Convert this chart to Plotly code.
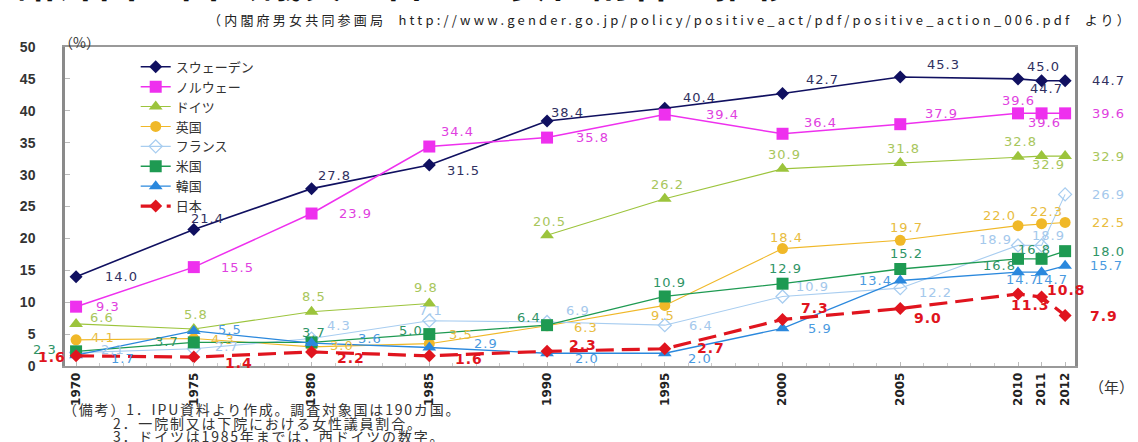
import plotly.graph_objects as go

# ---------------- data ----------------
years = [1970, 1975, 1980, 1985, 1990, 1995, 2000, 2005, 2010, 2011, 2012]
tick_labels = [str(y) for y in years]

countries = ["スウェーデン", "ノルウェー", "ドイツ", "英国", "フランス", "米国", "韓国", "日本"]
sweden = [14.0, 21.4, 27.8, 31.5, 38.4, 40.4, 42.7, 45.3, 45.0, 44.7, 44.7]
norway = [9.3, 15.5, 23.9, 34.4, 35.8, 39.4, 36.4, 37.9, 39.6, 39.6, 39.6]
germany = [6.6, 5.8, 8.5, 9.8, 20.5, 26.2, 30.9, 31.8, 32.8, 32.9, 32.9]
uk = [4.1, 4.3, 3.0, 3.5, 6.3, 9.5, 18.4, 19.7, 22.0, 22.3, 22.5]
france = [2.1, 2.7, 4.3, 7.1, 6.9, 6.4, 10.9, 12.2, 18.9, 18.9, 26.9]
usa = [2.3, 3.7, 3.7, 5.0, 6.4, 10.9, 12.9, 15.2, 16.8, 16.8, 18.0]
korea = [1.7, 5.5, 3.6, 2.9, 2.0, 2.0, 5.9, 13.4, 14.7, 14.7, 15.7]
japan = [1.6, 1.4, 2.2, 1.6, 2.3, 2.7, 7.3, 9.0, 11.3, 10.8, 7.9]
west_germany_until = 1985  # West Germany figures up to 1985 (line break after)

title_text = "諸外国の国会議員に占める女性割合の推移"
source_text = "（内閣府男女共同参画局  http://www.gender.go.jp/policy/positive_act/pdf/positive_action_006.pdf  より）"
notes = ["（備考）1．IPU資料より作成。調査対象国は190カ国。",
         "2．一院制又は下院における女性議員割合。",
         "3．ドイツは1985年までは，西ドイツの数字。"]

# ---------------- styles ----------------
series = [sweden, norway, germany, uk, france, usa, korea, japan]
line_colors = ["#101060", "#ee30ee", "#9cc43c", "#f0b828", "#a8cdf0", "#1e9a52", "#2a88dd", "#e0141e"]
label_colors = ["#303060", "#e040e0", "#a8c65c", "#e8bc40", "#a4c8ec", "#2f9466", "#4a9ae0", "#e0141e"]
symbols = ["diamond", "square", "triangle-up", "circle", "diamond-open", "square", "triangle-up", "diamond"]
msizes = [10, 12, 12, 11, 10, 12, 12, 10]
lwidths = [1.6, 1.5, 1.1, 1.1, 1.1, 1.3, 1.3, 3.2]
dashes = ["solid"] * 7 + ["18px,8px"]

# label offsets (dx, dy) in pixels (dy downward)
offsets = [
    [(45, 0), (14, -11), (23, -13), (34, 5), (20, -9), (35, -11), (40, -14), (43, -12), (25, -12), (5, 8), (43, 0)],
    [(32, 0), (44, 0), (44, 0), (28, -15), (45, 0), (58, 0), (38, -11), (41, -11), (0, -13), (3, 9), (43, 0)],
    [(26, -6), (2, -15), (2, -15), (-3, -16), (2, -14), (3, -14), (2, -14), (3, -15), (2, -15), (7, 8), (43, 0)],
    [(27, -2), (29, 1), (30, -1), (32, -9), (39, 2), (-2, 10), (4, -11), (6, -13), (-19, -10), (5, -12), (43, 0)],
    [(37, -3), (33, -2), (27, -13), (2, -10), (31, -11), (36, 0), (30, -10), (35, 4), (-23, -6), (7, -10), (43, 0)],
    [(-31, -2), (-27, -1), (2, -10), (-18, -4), (-18, -8), (5, -14), (3, -15), (6, -16), (-19, 7), (-7, -9), (43, 0)],
    [(47, 3), (36, -1), (58, -5), (57, -4), (40, 5), (35, 5), (37, 0), (-25, 0), (4, 7), (10, 7), (41, 0)],
    [(-24, 1), (45, 6), (39, 6), (40, 3), (36, -6), (46, -1), (32, -11), (28, 9), (12, 11), (25, -7), (39, 0)],
]


def spaced(text, px):
    return f'<span style="letter-spacing:{px}px">{text}</span>'


fig = go.Figure()
for i, (name, vals) in enumerate(zip(countries, series)):
    segs = [(years, vals)]
    if name == "ドイツ":
        k = years.index(west_germany_until) + 1
        segs = [(years[:k], vals[:k]), (years[k:], vals[k:])]
    for j, (xs, ys) in enumerate(segs):
        fig.add_trace(go.Scatter(
            x=xs, y=ys, name=name, mode="lines+markers",
            legendgroup=name, showlegend=(j == 0),
            line=dict(color=line_colors[i], width=lwidths[i], dash=dashes[i]),
            marker=dict(symbol=symbols[i], size=msizes[i], color=line_colors[i],
                        line=dict(width=1.3 if symbols[i].endswith("open") else 0, color=line_colors[i])),
            hoverinfo="x+y+name",
        ))

annotations = []
for i, vals in enumerate(series):
    is_jp = countries[i] == "日本"
    for k, (yr, v) in enumerate(zip(years, vals)):
        dx, dy = offsets[i][k]
        annotations.append(dict(
            x=yr, y=v, xref="x", yref="y", text=spaced(f"{v:.1f}", 1), showarrow=False,
            xshift=dx, yshift=-dy, xanchor="center", yanchor="middle",
            font=dict(family="DejaVu Sans, Arial, sans-serif", size=14 if is_jp else 13,
                      color=label_colors[i], weight="bold" if is_jp else "normal"),
        ))

# title (clipped at top), source, units, notes
annotations.append(dict(text=spaced(f"<b>{title_text}</b>", 3), x=0.0, xref="paper", xanchor="left",
                        y=1.1145, yref="paper", yanchor="bottom", showarrow=False, xshift=-50,
                        font=dict(family="Noto Sans CJK JP", size=38, color="#111")))
annotations.append(dict(text=spaced(source_text, 3.2), x=1.0, xref="paper", xanchor="right", xshift=60,
                        y=1.086, yref="paper", yanchor="middle", showarrow=False,
                        font=dict(family="Noto Sans CJK JP", size=13, color="#222")))
annotations.append(dict(text="（%）", x=0.0, xref="paper", xanchor="left", xshift=-8,
                        y=1.0, yref="paper", yanchor="middle", yshift=5, showarrow=False,
                        font=dict(family="Noto Sans CJK JP", size=14, color="#333")))
annotations.append(dict(text="（年）", x=1.0, xref="paper", xanchor="left", xshift=12,
                        y=0.0, yref="paper", yanchor="top", yshift=-8, showarrow=False,
                        font=dict(family="Noto Sans CJK JP", size=15, color="#333")))
note_x = [-4, 46, 46]
for n, (t, xs) in enumerate(zip(notes, note_x)):
    annotations.append(dict(text=spaced(t, 1.8), x=0.0, xref="paper", xanchor="left", xshift=xs,
                            y=0.0, yref="paper", yanchor="middle", yshift=-43 - 13.5 * n,
                            showarrow=False,
                            font=dict(family="Noto Sans CJK JP", size=14, color="#333")))

fig.update_layout(
    width=1138, height=442,
    margin=dict(l=65, r=63, t=47, b=76),
    paper_bgcolor="white", plot_bgcolor="white",
    showlegend=True,
    legend=dict(x=0.07, y=0.985, xanchor="left", yanchor="top",
                bgcolor="rgba(255,255,255,0)", borderwidth=0,
                font=dict(family="Noto Sans CJK JP", size=13, color="#333"),
                tracegroupgap=0),
    annotations=annotations,
    xaxis=dict(range=[1969.53, 2012.42], tickmode="array", tickvals=years, ticktext=tick_labels,
               tickangle=-90, showgrid=False, zeroline=False,
               showline=True, linecolor="#999", linewidth=1.5, mirror=True,
               ticks="inside", ticklen=4, tickcolor="#bbb",
               minor=dict(dtick=1, ticks="inside", ticklen=3, tickcolor="#ccc"),
               tickfont=dict(family="DejaVu Sans, Arial", size=12, color="#222", weight="bold")),
    yaxis=dict(range=[0, 50], dtick=5, showgrid=False, zeroline=False,
               showline=True, linecolor="#8a8a8a", linewidth=2.5, mirror=True,
               ticks="inside", ticklen=5, tickcolor="#bbb", ticklabelstandoff=24,
               tickfont=dict(family="Liberation Sans, Arial", size=14, color="#333", weight="bold")),
)

fig.write_html("out.html")
